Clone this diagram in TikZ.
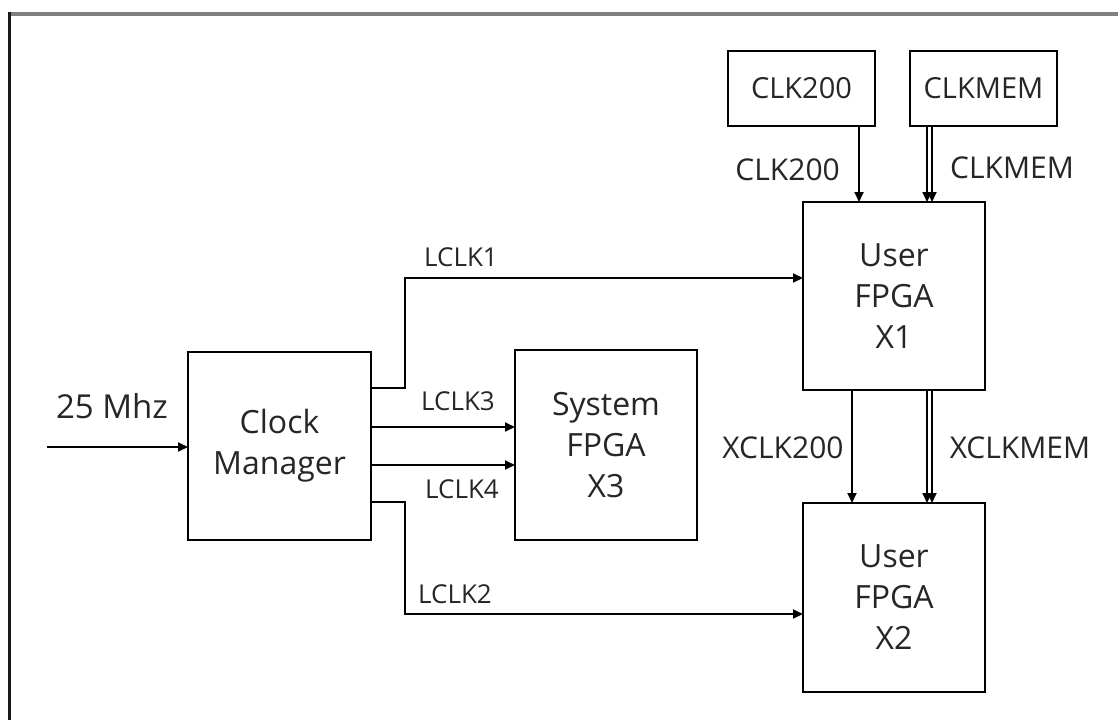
\documentclass[tikz,border=0pt]{standalone}
\usepackage{fontspec}
\setmainfont{Open Sans}
\usetikzlibrary{arrows.meta}
\begin{document}
\begin{tikzpicture}[x=1pt,y=-1pt,
  blk/.style={draw,line width=1.8pt,inner sep=0pt,outer sep=0pt,align=center,
    font=\fontsize{32}{41}\selectfont,text=black!85},
  srcblk/.style={draw,line width=1.8pt,inner sep=0pt,outer sep=0pt,
    minimum width=147pt,minimum height=75pt,font=\fontsize{29}{34}\selectfont,text=black!85},
  wire/.style={line width=1.8pt},
  arr/.style={wire,-{Triangle[length=10pt,width=9pt]}},
  sig/.style={font=\fontsize{30}{34}\selectfont,text=black!85,inner sep=0pt},
  lsig/.style={font=\fontsize{26}{30}\selectfont,text=black!85,inner sep=0pt}]
  \useasboundingbox (0,0) rectangle (1118,720);
  % frame
  \draw[line width=4pt,black!50] (8,14) -- (1118,14);
  \draw[line width=2.5pt,black!90] (9.5,12) -- (9.5,720);

  % blocks
  \node[blk,minimum width=183pt,minimum height=188pt] (cm) at (279.5,446) {Clock\\Manager};
  \node[blk,minimum width=182pt,minimum height=190pt] (sys) at (606,445) {System\\FPGA\\X3};
  \node[blk,minimum width=182pt,minimum height=188pt] (x1) at (894,296) {User\\FPGA\\X1};
  \node[blk,minimum width=182pt,minimum height=189pt] (x2) at (894,597.5) {User\\FPGA\\X2};
  \node[srcblk] (clk) at (801.5,88.5) {CLK200};
  \node[srcblk] (mem) at (983.5,88.5) {CLKMEM};

  % input clock
  \coordinate (in) at (47,447);
  \draw[arr] (in) -- (in -| cm.west);
  \node[sig,font=\fontsize{33}{38}\selectfont] (l25) at (112,406) {25 Mhz};

  % clock manager outputs
  \coordinate (k1) at (405,278);
  \coordinate (k2) at (405,614);
  \draw[arr] ([yshift=58pt]cm.east) -| (k1) -- (k1 -| x1.west);
  \draw[arr] ([yshift=-56pt]cm.east) -| (k2) -- (k2 -| x2.west);
  \coordinate (o3) at ([yshift=19pt]cm.east);
  \coordinate (o4) at ([yshift=-19pt]cm.east);
  \draw[arr] (o3) -- (o3 -| sys.west);
  \draw[arr] (o4) -- (o4 -| sys.west);
  \node[lsig] (t1) at (461,257) {LCLK1};
  \node[lsig] (t3) at (458,401) {LCLK3};
  \node[lsig] (t4) at (462,489) {LCLK4};
  \node[lsig] (t2) at (455,594) {LCLK2};

  % memory and reference clocks into X1
  \coordinate (c1) at ([xshift=57.5pt]clk.south);
  \draw[arr] (c1) -- (c1 |- x1.north);
  \coordinate (m1) at ([xshift=-56.5pt]mem.south);
  \coordinate (m2) at ([xshift=-51.5pt]mem.south);
  \draw[arr] (m1) -- (m1 |- x1.north);
  \draw[arr] (m2) -- (m2 |- x1.north);
  \node[sig,anchor=east] (tc) at (840,170) {CLK200};
  \node[sig,anchor=west] (tm) at (950,168) {CLKMEM};

  % forwarded clocks X1 -> X2
  \coordinate (x200) at ([xshift=-42pt]x1.south);
  \coordinate (xm1) at ([xshift=33pt]x1.south);
  \coordinate (xm2) at ([xshift=38pt]x1.south);
  \draw[arr] (x200) -- (x200 |- x2.north);
  \draw[arr] (xm1) -- (xm1 |- x2.north);
  \draw[arr] (xm2) -- (xm2 |- x2.north);
  \node[sig] (tx2) at (783,448) {XCLK200};
  \node[sig] (txm) at (1020,448) {XCLKMEM};
\end{tikzpicture}
\end{document}
